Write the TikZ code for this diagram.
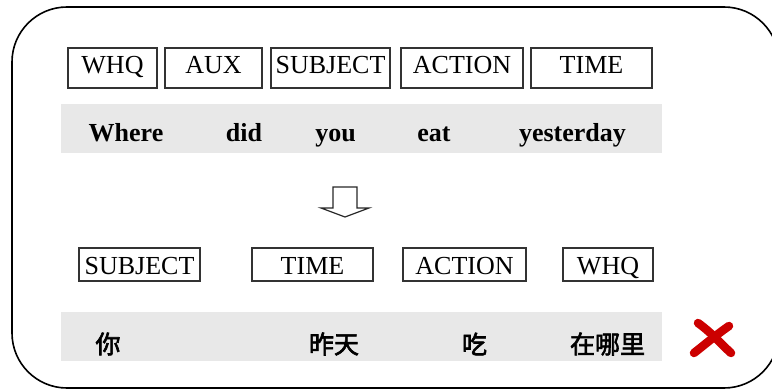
\documentclass[tikz,border=0pt]{standalone}
\usepackage{fontspec}
\setmainfont{Liberation Serif}
\newfontfamily\cjk[FakeBold=2.5]{Noto Sans CJK SC}
\begin{document}
\begin{tikzpicture}[x=1pt,y=-1pt,
  lbl/.style={draw=black!80,line width=1.3pt,inner sep=0pt,font=\fontsize{26}{28}\selectfont},
  topbox/.style={lbl,minimum height=40pt,text height=18pt,text depth=6pt},
  botbox/.style={lbl,minimum height=33pt,text height=20pt,text depth=0pt},
  word/.style={anchor=base,inner sep=0pt,font=\fontsize{26}{28}\selectfont\bfseries},
  cword/.style={anchor=center,inner sep=0pt,font=\fontsize{25}{28}\selectfont\cjk},
  band/.style={fill=black!9,draw=none},
  crossline/.style={red!80!black,line width=8.5pt,line cap=round}]
\useasboundingbox (0,0) rectangle (772,390);
\begin{scope}
\clip (0,0) rectangle (772,390);
\draw[line width=1.6pt,rounded corners=55pt] (12,7) rectangle (779,388);
\end{scope}
% bands
\fill[band] (61,104) rectangle (662,153);
\fill[band] (61,312) rectangle (662,361);
% top boxes
\node[topbox,minimum width=89pt] (t1) at (112.5,68) {WHQ};
\node[topbox,minimum width=97pt] (t2) at (213.5,68) {AUX};
\node[topbox,minimum width=119pt] (t3) at (330.5,68) {SUBJECT};
\node[topbox,minimum width=122pt] (t4) at (462,68) {ACTION};
\node[topbox,minimum width=121pt] (t5) at (591.5,68) {TIME};
% english words
\node[word] (w1) at (126,142) {Where};
\node[word] (w2) at (244,142) {did};
\node[word] (w3) at (335.5,142) {you};
\node[word] (w4) at (434,142) {eat};
\node[word] (w5) at (572.5,142) {yesterday};
% arrow
\draw[line width=1.2pt,draw=black!85,line join=miter] (333,187) -- (357,187) -- (357,208) -- (369,208) -- (345,217) -- (321,208) -- (333,208) -- cycle;
% bottom boxes
\node[botbox,minimum width=121pt] (b1) at (139.5,264.5) {SUBJECT};
\node[botbox,minimum width=121pt] (b2) at (312.5,264.5) {TIME};
\node[botbox,minimum width=123pt] (b3) at (464.5,264.5) {ACTION};
\node[botbox,minimum width=90pt] (b4) at (608,264.5) {WHQ};
% chinese words
\node[cword] (c1) at (108,344) {你};
\node[cword] (c2) at (334,344) {昨天};
\node[cword] (c3) at (474.5,344) {吃};
\node[cword] (c4) at (607.5,344) {在哪里};
% red cross
\draw[crossline] (698,323) .. controls (712,333) and (722,345) .. (731,353);
\draw[crossline] (729,326) .. controls (716,335) and (703,346) .. (694,353);
\end{tikzpicture}
\end{document}
